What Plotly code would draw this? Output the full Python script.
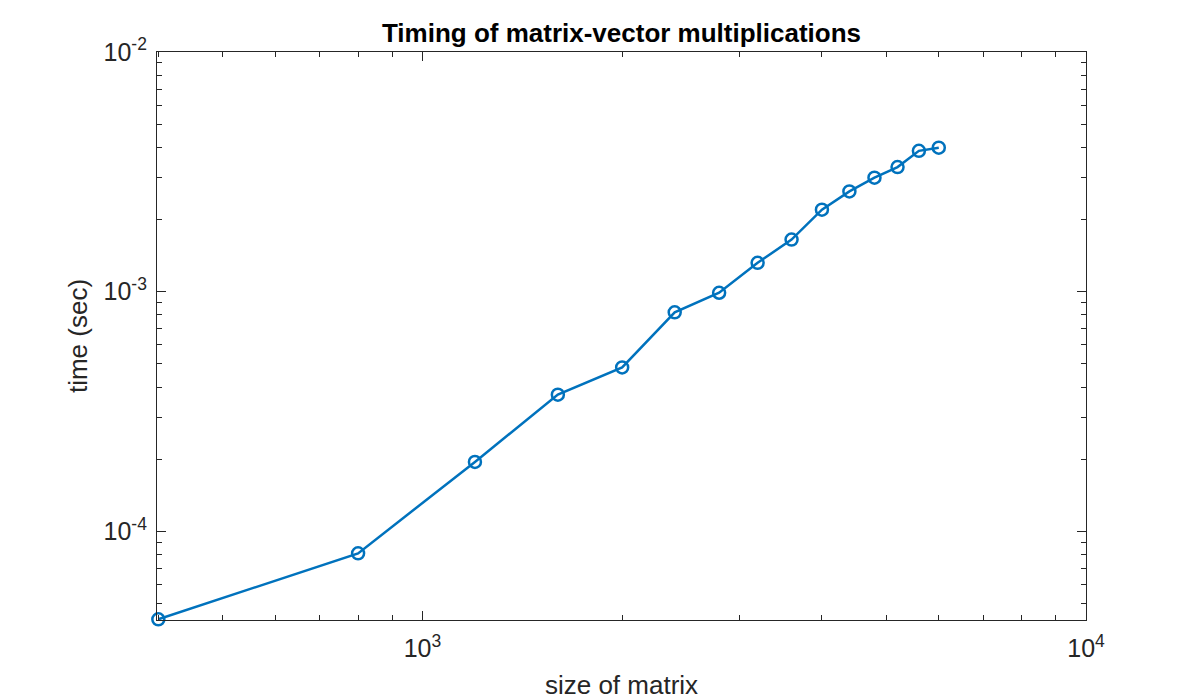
import numpy as np
import plotly.graph_objects as go

tamanhos = [400, 800, 1200, 1600, 2000, 2400, 2800, 3200, 3600, 4000, 4400, 4800, 5200, 5600, 6000]
tempos = [4.3e-5, 8.1e-5, 1.95e-4, 3.72e-4, 4.83e-4, 8.2e-4, 9.9e-4, 1.32e-3, 1.65e-3,
          2.2e-3, 2.62e-3, 2.99e-3, 3.31e-3, 3.87e-3, 3.99e-3]

titulo = "Timing of matrix-vector multiplications"
legenda_x = "size of matrix"
legenda_y = "time (sec)"

x_lim = [400, 1e4]
y_lim = [4.3e-5, 1e-2]

x_ticks = [1e3, 1e4]
x_ticktext = ["10<sup>3</sup>", "10<sup>4</sup>"]
y_ticks = [1e-4, 1e-3, 1e-2]
y_ticktext = ["10<sup>-4</sup>", "10<sup>-3</sup>", "10<sup>-2</sup>"]

minor_x = [m * 10 ** e for e in (2, 3) for m in range(2, 10)]
minor_y = [m * 10 ** e for e in (-5, -4, -3) for m in range(2, 10)]

azul = "#0072BD"
eixo = "#262626"
fonte = "Liberation Sans"

fig = go.Figure()
fig.add_trace(
    go.Scatter(
        x=tamanhos,
        y=tempos,
        mode="lines+markers",
        line=dict(color=azul, width=2.5),
        marker=dict(symbol="circle-open", size=12, color=azul, line=dict(width=2.5, color=azul)),
        showlegend=False,
        cliponaxis=False,
    )
)

eixo_comum = dict(
    type="log",
    showgrid=False,
    zeroline=False,
    showline=True,
    linecolor=eixo,
    linewidth=1.2,
    mirror="ticks",
    ticks="inside",
    ticklen=9,
    tickcolor=eixo,
    tickwidth=1,
    tickmode="array",
    tickfont=dict(family=fonte, size=25, color=eixo),
    title_font=dict(family=fonte, size=26, color=eixo),
)

fig.update_xaxes(
    **eixo_comum,
    range=[float(np.log10(x_lim[0])) - 0.002, float(np.log10(x_lim[1]))],
    tickvals=x_ticks,
    ticktext=x_ticktext,
    ticklabelstandoff=6,
    title=dict(text=legenda_x, standoff=14),
    minor=dict(tickvals=minor_x, ticks="inside", ticklen=5, tickcolor=eixo, showgrid=False),
)
fig.update_yaxes(
    **eixo_comum,
    range=[float(np.log10(y_lim[0])) - 0.003, float(np.log10(y_lim[1]))],
    tickvals=y_ticks,
    ticktext=y_ticktext,
    ticklabelstandoff=4,
    title=dict(text=legenda_y, standoff=8),
    minor=dict(tickvals=minor_y, ticks="inside", ticklen=5, tickcolor=eixo, showgrid=False),
)

# a pagina tem 8px de margem no body
fig.update_layout(
    width=1200,
    height=700,
    paper_bgcolor="white",
    plot_bgcolor="white",
    margin=dict(l=149, r=122, t=44, b=88),
    title=dict(
        text="<b>" + titulo + "</b>",
        x=(149 + 1078) / 2 / 1200,
        xanchor="center",
        y=1 - 25 / 700,
        yanchor="middle",
        font=dict(family=fonte, size=26, color="black"),
    ),
)

fig.write_html("out.html")
